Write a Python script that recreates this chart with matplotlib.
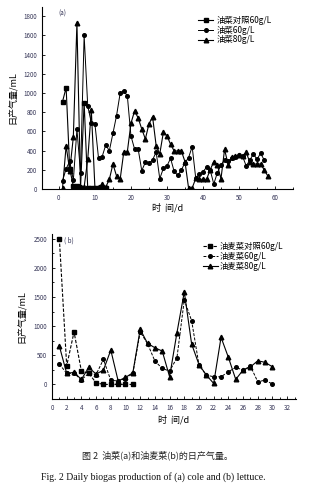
import matplotlib
matplotlib.use("Agg")
import matplotlib.pyplot as plt
from matplotlib.ticker import MultipleLocator

plt.rcParams['font.family'] = ['Noto Sans CJK SC', 'DejaVu Sans']

# ---------------- Panel (a): cole ----------------
a_ctrl_x = [1, 2, 3, 4, 5, 6, 7, 8, 9, 10, 11, 12, 13]
a_ctrl_y = [910, 1055, 210, 30, 30, 10, 900, 10, 10, 10, 10, 10, 10]

a_60_x = list(range(1, 58))
a_60_y = [87, 210, 290, 90, 620, 170, 1600, 865, 690, 677, 320, 337, 458, 399,
          580, 764, 997, 1024, 969, 552, 417, 417, 191, 278, 267, 302, 385, 107,
          215, 240, 319, 183, 142, 198, 274, 326, 441, 110, 153, 180, 226, 198,
          52, 170, 250, 302, 290, 320, 330, 350, 340, 240, 300, 365, 309, 372, 302]

a_80_x = list(range(1, 59))
a_80_y = [10, 450, 190, 540, 1730, 20, 20, 310, 820, 10, 20, 50, 20, 100,
          260, 135, 101, 382, 389, 684, 812, 740, 625, 521, 677, 753, 451, 365,
          590, 555, 465, 396, 396, 396, 285, 10, 10, 111, 101, 101, 101, 200,
          285, 250, 107, 413, 250, 330, 340, 350, 340, 382, 280, 260, 260, 260,
          200, 135]

# ---------------- Panel (b): lettuce ----------------
b_ctrl_x = [1, 2, 3, 4, 5, 6, 7, 8, 9, 10, 11]
b_ctrl_y = [2500, 320, 900, 228, 190, 28, 0, 0, 0, 0, 0]

b_60_x = list(range(1, 31))
b_60_y = [349, 190, 190, 80, 190, 170, 430, 69, 60, 100, 190, 900, 700, 400,
          275, 228, 457, 1449, 1093, 331, 160, 131, 131, 217, 292, 246, 314,
          45, 74, 5]

b_80_x = list(range(1, 31))
b_80_y = [658, 190, 206, 86, 292, 177, 246, 589, 60, 120, 200, 945, 704, 629,
          572, 131, 887, 1586, 692, 340, 160, 17, 808, 464, 86, 246, 300, 406,
          378, 302]

a_labels = ['油菜对照60g/L', '油菜60g/L', '油菜80g/L']
b_labels = ['油麦菜对照60g/L', '油麦菜60g/L', '油麦菜80g/L']

W, H = 326, 486
fig = plt.figure(figsize=(W / 100, H / 100), dpi=100)


def add_ax(l, r, t, b):
    return fig.add_axes([l / W, 1 - b / H, (r - l) / W, (b - t) / H])


def style(ax):
    for s in ['top', 'right']:
        ax.spines[s].set_visible(False)
    for s in ['left', 'bottom']:
        ax.spines[s].set_linewidth(0.8)
    ax.tick_params(which='both', direction='in', labelsize=4.5, width=0.6,
                   colors='black')
    ax.tick_params(which='major', length=2.5)
    ax.tick_params(which='minor', length=1.5)
    for lab in ax.get_xticklabels() + ax.get_yticklabels():
        lab.set_color('#333355')


# Panel a
axa = add_ax(42, 293, 7, 189)
la1, = axa.plot(a_ctrl_x, a_ctrl_y, color='black', lw=0.8, marker='s', ms=2.6)
la2, = axa.plot(a_60_x, a_60_y, color='black', lw=0.7, marker='o', ms=2.6)
la3, = axa.plot(a_80_x, a_80_y, color='black', lw=0.8, marker='^', ms=3.3)
axa.set_xlim(-4.7, 65)
axa.set_ylim(0, 1895)
axa.xaxis.set_major_locator(MultipleLocator(10))
axa.xaxis.set_minor_locator(MultipleLocator(5))
axa.yaxis.set_major_locator(MultipleLocator(200))
style(axa)
axa.set_ylabel('日产气量/mL', fontsize=6.5, labelpad=4)
axa.set_xlabel('时  间/d', fontsize=6.5, labelpad=1)
axa.text(0.065, 0.985, '(a)', transform=axa.transAxes, fontsize=4.5,
         va='top', ha='left', color='#333355')
axa.legend([la1, la2, la3], a_labels, loc='upper left',
           bbox_to_anchor=(0.61, 0.97), frameon=False, fontsize=6,
           handlelength=1.8, handletextpad=0.4, labelspacing=0.1,
           borderaxespad=0)

# Panel b
axb = add_ax(52, 296, 234, 399)
lb1, = axb.plot(b_ctrl_x, b_ctrl_y, color='black', lw=0.8, marker='s', ms=2.6,
                ls=(0, (3, 1.5)))
lb2, = axb.plot(b_60_x, b_60_y, color='black', lw=0.7, marker='o', ms=2.6,
                ls=(0, (3, 1.5)))
lb3, = axb.plot(b_80_x, b_80_y, color='black', lw=0.8, marker='^', ms=3.3)
axb.set_xlim(0, 33.2)
axb.set_ylim(-250, 2580)
axb.xaxis.set_major_locator(MultipleLocator(2))
axb.xaxis.set_minor_locator(MultipleLocator(1))
axb.yaxis.set_major_locator(MultipleLocator(500))
axb.yaxis.set_minor_locator(MultipleLocator(250))
style(axb)
axb.set_ylabel('日产气量/mL', fontsize=6.5, labelpad=5)
axb.set_xlabel('时  间/d', fontsize=6.5, labelpad=2)
axb.text(0.05, 0.985, '( b)', transform=axb.transAxes, fontsize=4.5,
         va='top', ha='left', color='#333355')
axb.legend([lb1, lb2, lb3], b_labels, loc='upper left',
           bbox_to_anchor=(0.605, 0.97), frameon=False, fontsize=6,
           handlelength=1.8, handletextpad=0.2, labelspacing=0.1,
           borderaxespad=0)

# Captions
fig.text(157 / W, 1 - 455 / H, '图 2  油菜(a)和油麦菜(b)的日产气量。', fontsize=6.5,
         ha='center', va='center', color='#222222')
fig.text(153 / W, 1 - 477 / H,
         'Fig. 2 Daily biogas production of (a) cole and (b) lettuce.',
         fontsize=7, ha='center', va='center', family='Liberation Serif',
         color='#111111')

fig.savefig('out.png', dpi=100)
